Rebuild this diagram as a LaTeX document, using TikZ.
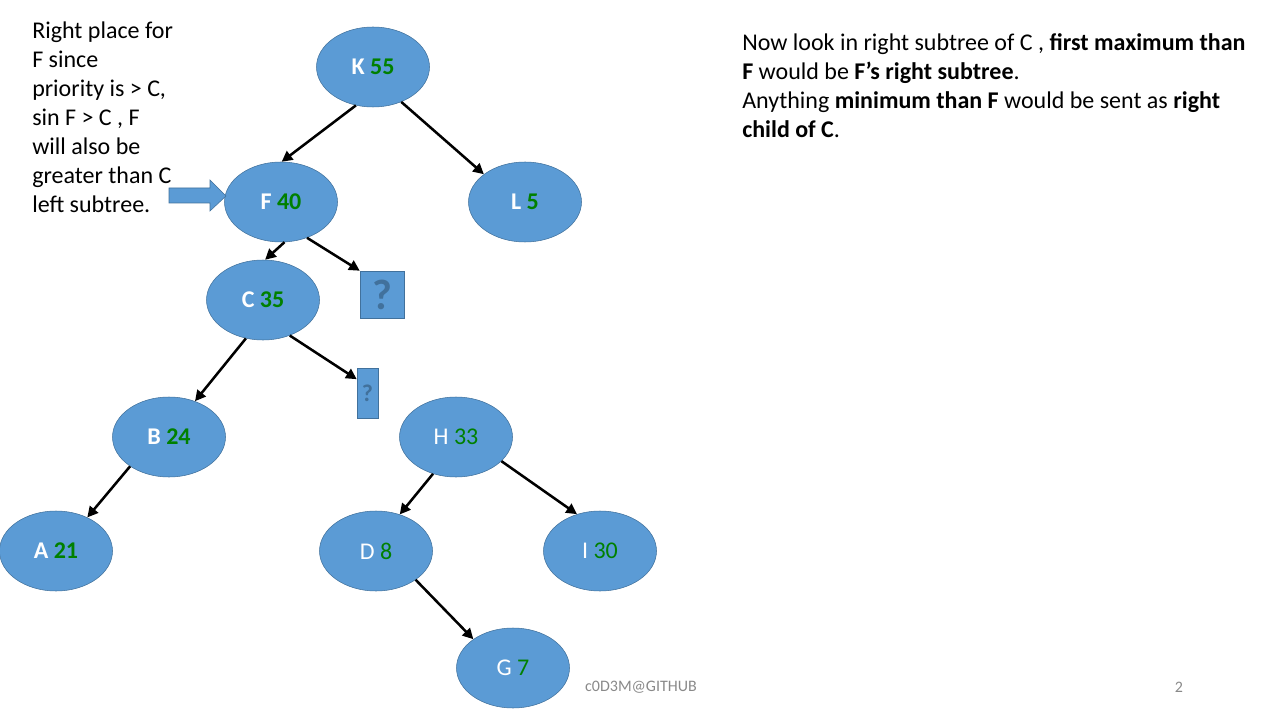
\documentclass[tikz,border=0pt]{standalone}
\usepackage{fontspec}
\setmainfont{Carlito}
\usetikzlibrary{shapes.geometric, arrows.meta}
\definecolor{nodeblue}{HTML}{5B9BD5}
\definecolor{nodeedge}{HTML}{41719C}
\definecolor{keygreen}{HTML}{008000}
\definecolor{footgray}{HTML}{898989}

\begin{document}
\begin{tikzpicture}[x=0.75pt, y=-0.75pt,
    treenode/.style={ellipse, draw=nodeedge, fill=nodeblue, text=white,
        minimum width=84.75pt, minimum height=60pt, inner sep=0pt,
        font=\fontsize{18}{21.75}\selectfont},
    qbox/.style={rectangle, draw=nodeedge, fill=nodeblue, text=nodeedge, inner sep=0pt},
    link/.style={line width=1.9pt, -{Triangle[length=8pt, width=8pt]}},
    slidetext/.style={anchor=base west, align=left, inner sep=0pt,
        font=\fontsize{18}{21.75}\selectfont}]
    \useasboundingbox (0, 0) rectangle (1280, 720);

    % tree nodes
    \node[treenode] (K) at (373, 67) {\textbf{K} \textcolor{keygreen}{\textbf{55}}};
    \node[treenode] (F) at (281, 202) {\textbf{F} \textcolor{keygreen}{\textbf{40}}};
    \node[treenode] (L) at (525, 202) {\textbf{L} \textcolor{keygreen}{\textbf{5}}};
    \node[treenode] (C) at (263, 300) {\textbf{C} \textcolor{keygreen}{\textbf{35}}};
    \node[treenode] (B) at (169, 437) {\textbf{B} \textcolor{keygreen}{\textbf{24}}};
    \node[treenode] (A) at (56, 551) {\textbf{A} \textcolor{keygreen}{\textbf{21}}};
    \node[treenode] (H) at (456, 437) {H \textcolor{keygreen}{33}};
    \node[treenode] (D) at (376, 551) {D \textcolor{keygreen}{8}};
    \node[treenode] (I) at (600, 551) {I \textcolor{keygreen}{30}};
    \node[treenode] (G) at (513, 668) {G \textcolor{keygreen}{7}};

    % question boxes
    \node[qbox, minimum width=33pt, minimum height=35.25pt] (Q1) at (382, 294.5)
        {\fontsize{32}{32}\selectfont\bfseries ?};
    \node[qbox, minimum width=15.75pt, minimum height=37.5pt] (Q2) at (367.5, 393)
        {\fontsize{18}{18}\selectfont\bfseries ?};

    % edges
    \draw[link] (K.246) -- (F.89);
    \draw[link] (K.309) -- (L.146);
    \draw[link] (F.275) -- (C.87);
    \draw[link] (F.306) -- (Q1.north west);
    \draw[link] (C.246) -- (B.54);
    \draw[link] (C.307) -- (Q2.128);
    \draw[link] (B.217) -- (A.47);
    \draw[link] (H.238) -- (D.57);
    \draw[link] (H.332) -- (I.122);
    \draw[link] (D.324) -- (G.144);

    % block arrow pointing at F
    \draw[draw=nodeedge, fill=nodeblue] (169, 188) -- (210, 188) -- (210, 180)
        -- (226, 196) -- (210, 211) -- (210, 203) -- (169, 203) -- cycle;

    % texts (base is the last line)
    \node[slidetext] (note) at (32, 213) {Right place for\\F since\\priority is > C,\\sin F > C , F\\will also be\\greater than C\\left subtree.};
    \node[slidetext] (explain) at (742, 138) {Now look in right subtree of C , \textbf{first maximum than}\\\textbf{F} would be \textbf{F’s right subtree}.\\Anything \textbf{minimum than F} would be sent as \textbf{right}\\\textbf{child of C}.};
    \node[text=footgray, font=\fontsize{12}{14}\selectfont] (credit) at (641, 687) {c0D3M@GITHUB};
    \node[text=footgray, font=\fontsize{12}{14}\selectfont] (page) at (1179, 687) {2};
\end{tikzpicture}
\end{document}
